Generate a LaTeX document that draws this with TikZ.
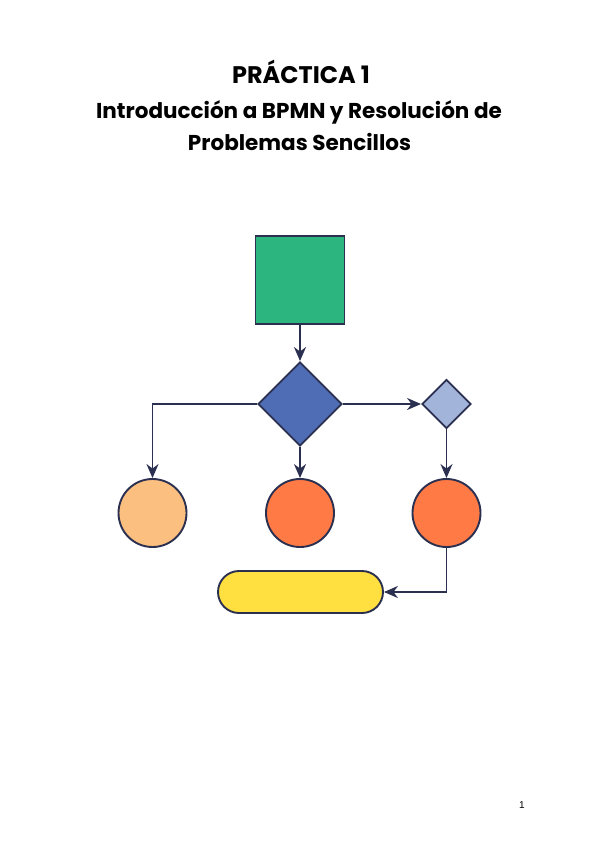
\documentclass[tikz,border=0pt]{standalone}
\usepackage{fontspec}
\setmainfont{Poppins}
\newfontfamily\pagefont{Liberation Sans}
\usetikzlibrary{shapes.geometric,arrows.meta}
\definecolor{edgecol}{HTML}{2B3050}
\definecolor{greenfill}{HTML}{2DB57F}
\definecolor{bluefill}{HTML}{4F6DB5}
\definecolor{lightblue}{HTML}{A3B4DA}
\definecolor{peach}{HTML}{FBBF80}
\definecolor{orangefill}{HTML}{FF7A45}
\definecolor{yellowfill}{HTML}{FFE040}
\tikzset{
  shapebox/.style={draw=edgecol, line width=1.9pt, inner sep=0pt},
  conn/.style={draw=edgecol, line width=1.9pt, -{Stealth[length=14pt,width=12pt,inset=4.5pt]}},
  titletext/.style={font=\bfseries, text=black, anchor=base, inner sep=0pt}
}
\begin{document}
\begin{tikzpicture}[x=1pt,y=-1pt]
\useasboundingbox (0,0) rectangle (600,848);
\node[titletext, font=\fontsize{24}{24}\selectfont\bfseries] (t1) at (301,84) {PRÁCTICA 1};
\node[titletext, font=\fontsize{21.5}{21.5}\selectfont\bfseries] (t2) at (299,119) {Introducción a BPMN y Resolución de};
\node[titletext, font=\fontsize{21.5}{21.5}\selectfont\bfseries] (t3) at (299.5,150) {Problemas Sencillos};

\node[shapebox, fill=greenfill, rectangle, minimum width=89pt, minimum height=88pt] (sq) at (300,280) {};
\node[shapebox, fill=bluefill, diamond, minimum width=84pt, minimum height=84pt] (d1) at (300,404) {};
\node[shapebox, fill=lightblue, diamond, minimum width=49pt, minimum height=49pt] (d2) at (446.5,404) {};
\node[shapebox, fill=peach, circle, minimum size=68pt] (c1) at (152.5,513) {};
\node[shapebox, fill=orangefill, circle, minimum size=68pt] (c2) at (300,513) {};
\node[shapebox, fill=orangefill, circle, minimum size=68pt] (c3) at (446.5,513) {};
\node[shapebox, fill=yellowfill, rectangle, rounded corners=21pt, minimum width=165pt, minimum height=42pt] (pill) at (300.5,592) {};

\draw[conn] (sq.south) -- (d1.north);
\draw[conn] (d1.east) -- (d2.west);
\draw[conn] (d1.west) -| (c1.north);
\draw[conn] (d1.south) -- (c2.north);
\draw[conn] (d2.south) -- (c3.north);
\draw[conn] (c3.south) |- (pill.east);

\node[font=\pagefont\fontsize{10}{10}\selectfont, anchor=base, inner sep=0pt] (pg) at (522,808) {1};
\end{tikzpicture}
\end{document}
